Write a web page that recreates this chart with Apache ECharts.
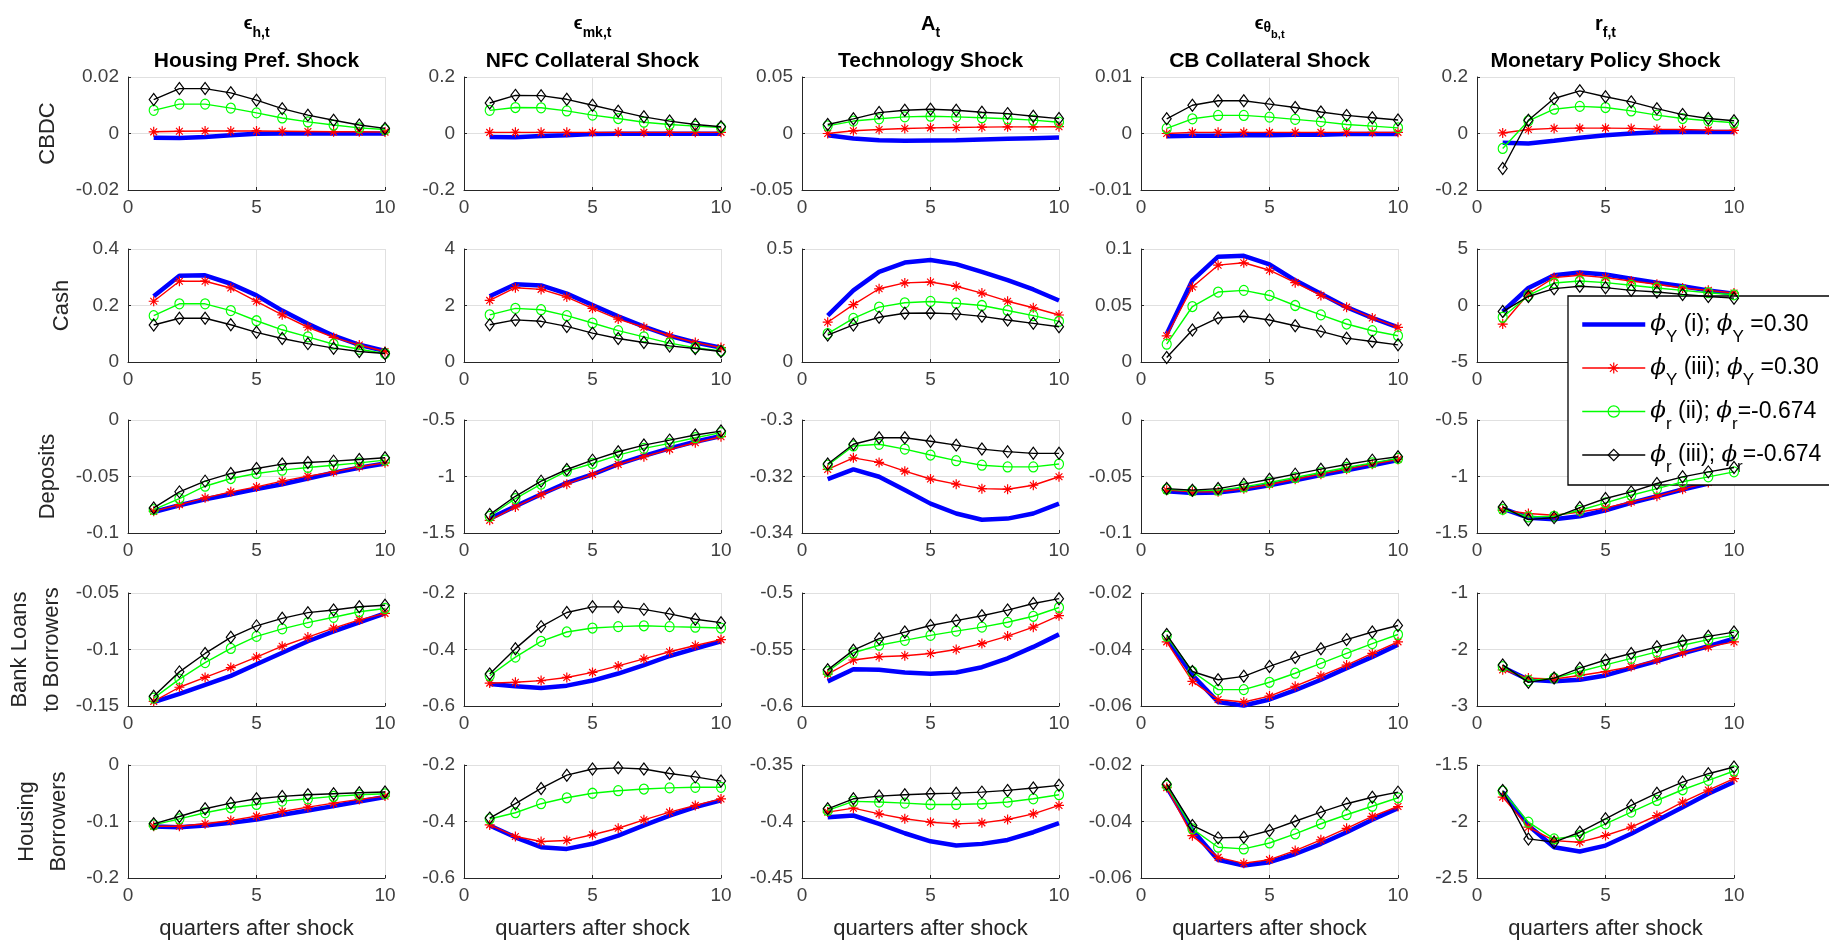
<!DOCTYPE html>
<html>
<head>
<meta charset="utf-8">
<title>Impulse responses</title>
<script src="https://cdn.jsdelivr.net/npm/echarts@6/dist/echarts.min.js"></script>
<style>
html, body { margin: 0; padding: 0; background: #fff; }
#irf { width: 1829px; height: 944px; }
</style>
</head>
<body>
<div id="irf"></div>
<script>
const quarters = [1, 2, 3, 4, 5, 6, 7, 8, 9, 10];

const shockSymbols = [
  "{e|ϵ}{s|h,t}",
  "{e|ϵ}{s|mk,t}",
  "{b|A}{s|t}",
  "{e|ϵ}{th|θ}{ss|b,t}",
  "{b|r}{s|f,t}"
];
const shockNames = ["Housing Pref. Shock", "NFC Collateral Shock", "Technology Shock", "CB Collateral Shock", "Monetary Policy Shock"];
const rowNames = ["CBDC", "Cash", "Deposits", "Bank Loans\nto Borrowers", "Housing\nBorrowers"];

const seriesNames = ["phiY_i", "phiY_iii", "phir_ii", "phir_iii"];
const legendLabels = [
  "{p|ϕ}{s|Y}{t| (i); }{p|ϕ}{s|Y}{t| =0.30}",
  "{p|ϕ}{s|Y}{t| (iii); }{p|ϕ}{s|Y}{t| =0.30}",
  "{p|ϕ}{s|r}{t| (ii); }{p|ϕ}{s|r}{t|=-0.674}",
  "{p|ϕ}{s|r}{t| (iii); }{p|ϕ}{s|r}{t|=-0.674}"
];

// y limits and tick steps, one row per variable, one entry per shock
const yMin = [
  [-0.02, -0.2, -0.05, -0.01, -0.2],
  [0, 0, 0, 0, -5],
  [-0.1, -1.5, -0.34, -0.1, -1.5],
  [-0.15, -0.6, -0.6, -0.06, -3],
  [-0.2, -0.6, -0.45, -0.06, -2.5]
];
const yMax = [
  [0.02, 0.2, 0.05, 0.01, 0.2],
  [0.4, 4, 0.5, 0.1, 5],
  [0, -0.5, -0.3, 0, -0.5],
  [-0.05, -0.2, -0.5, -0.02, -1],
  [0, -0.2, -0.35, -0.02, -1.5]
];
const yStep = [
  [0.02, 0.2, 0.05, 0.01, 0.2],
  [0.2, 2, 0.5, 0.05, 5],
  [0.05, 0.5, 0.02, 0.05, 0.5],
  [0.05, 0.2, 0.05, 0.02, 1],
  [0.1, 0.2, 0.05, 0.02, 0.5]
];

// CBDC
const cbdc_i = [
  [-0.0015, -0.0016, -0.0012, -0.0006, -0.0001, 0, 0, 0, 0, 0],
  [-0.012, -0.013, -0.009, -0.006, -0.002, -0.001, -0.001, -0.001, -0.001, -0.001],
  [-0.0015, -0.0044, -0.0059, -0.0065, -0.0062, -0.0059, -0.0053, -0.0047, -0.0041, -0.0035],
  [-0.0005, -0.0004, -0.0004, -0.0003, -0.0003, -0.0002, -0.0002, -0.0001, -0.0001, -0.0001],
  [-0.033, -0.035, -0.026, -0.015, -0.006, 0, 0.004, 0.005, 0.005, 0.005]
];
const cbdc_iii = [
  [0.0006, 0.0008, 0.0009, 0.0009, 0.0009, 0.0008, 0.0007, 0.0006, 0.0006, 0.0005],
  [0.004, 0.004, 0.004, 0.004, 0.004, 0.004, 0.004, 0.004, 0.004, 0.004],
  [0, 0.0024, 0.0035, 0.0044, 0.005, 0.0053, 0.0056, 0.0059, 0.0059, 0.006],
  [0, 0.0002, 0.0002, 0.0002, 0.0002, 0.0002, 0.0002, 0.0002, 0.0002, 0.0002],
  [0.002, 0.014, 0.018, 0.019, 0.019, 0.018, 0.015, 0.014, 0.012, 0.011]
];
const cbdc_ii = [
  [0.0082, 0.0104, 0.0104, 0.009, 0.0073, 0.0055, 0.0041, 0.003, 0.002, 0.0014],
  [0.082, 0.092, 0.091, 0.08, 0.065, 0.053, 0.04, 0.032, 0.026, 0.021],
  [0.0068, 0.011, 0.013, 0.0147, 0.0153, 0.0147, 0.014, 0.013, 0.0118, 0.01],
  [0.0009, 0.0026, 0.0032, 0.0032, 0.0029, 0.0025, 0.0021, 0.0016, 0.0013, 0.001],
  [-0.053, 0.045, 0.086, 0.096, 0.092, 0.08, 0.065, 0.053, 0.045, 0.038]
];
const cbdc_iiiR = [
  [0.012, 0.0159, 0.0159, 0.0144, 0.0118, 0.0088, 0.0065, 0.0047, 0.003, 0.0018],
  [0.108, 0.135, 0.134, 0.121, 0.1, 0.079, 0.059, 0.044, 0.032, 0.024],
  [0.008, 0.013, 0.0185, 0.0206, 0.0215, 0.0206, 0.0188, 0.0176, 0.0153, 0.0132],
  [0.0026, 0.005, 0.0058, 0.0058, 0.0052, 0.0046, 0.0038, 0.0032, 0.0028, 0.0024],
  [-0.124, 0.047, 0.124, 0.151, 0.13, 0.112, 0.088, 0.067, 0.053, 0.045]
];

// Cash
const cash_i = [
  [0.233, 0.305, 0.307, 0.277, 0.236, 0.182, 0.135, 0.093, 0.061, 0.039],
  [2.33, 2.75, 2.71, 2.42, 2.02, 1.62, 1.25, 0.93, 0.69, 0.51],
  [0.205, 0.317, 0.399, 0.44, 0.451, 0.433, 0.399, 0.362, 0.321, 0.272],
  [0.0247, 0.0723, 0.0932, 0.094, 0.0863, 0.0723, 0.0604, 0.0485, 0.039, 0.0307],
  [-0.54, 1.55, 2.68, 2.92, 2.74, 2.38, 2.02, 1.7, 1.34, 1.04]
];
const cash_iii = [
  [0.215, 0.286, 0.286, 0.262, 0.215, 0.167, 0.123, 0.087, 0.06, 0.037],
  [2.18, 2.63, 2.57, 2.3, 1.9, 1.52, 1.23, 0.93, 0.69, 0.51],
  [0.176, 0.254, 0.324, 0.35, 0.354, 0.335, 0.305, 0.269, 0.24, 0.208],
  [0.0232, 0.0664, 0.0857, 0.0878, 0.0812, 0.0702, 0.0589, 0.0485, 0.039, 0.0307],
  [-1.64, 1.04, 2.47, 2.68, 2.47, 2.17, 1.88, 1.55, 1.34, 1.1]
];
const cash_ii = [
  [0.164, 0.206, 0.206, 0.182, 0.146, 0.114, 0.089, 0.063, 0.045, 0.03],
  [1.67, 1.9, 1.85, 1.64, 1.38, 1.11, 0.89, 0.67, 0.51, 0.39],
  [0.126, 0.193, 0.243, 0.262, 0.268, 0.26, 0.25, 0.228, 0.205, 0.18],
  [0.0158, 0.0491, 0.0619, 0.0634, 0.0589, 0.05, 0.0417, 0.0336, 0.0277, 0.0232],
  [-1.04, 0.89, 1.99, 2.17, 2.02, 1.79, 1.55, 1.34, 1.13, 0.95]
];
const cash_iiiR = [
  [0.131, 0.155, 0.155, 0.132, 0.105, 0.083, 0.065, 0.049, 0.037, 0.03],
  [1.32, 1.49, 1.44, 1.26, 1.02, 0.83, 0.69, 0.57, 0.48, 0.37],
  [0.119, 0.164, 0.198, 0.216, 0.217, 0.213, 0.202, 0.186, 0.171, 0.156],
  [0.0039, 0.0283, 0.039, 0.0405, 0.0372, 0.0321, 0.0271, 0.0211, 0.0182, 0.0152],
  [-0.54, 0.8, 1.49, 1.7, 1.58, 1.34, 1.19, 0.98, 0.8, 0.65]
];

// Deposits
const dep_i = [
  [-0.0814, -0.0754, -0.0701, -0.0657, -0.0612, -0.0568, -0.0518, -0.0467, -0.0423, -0.0385],
  [-1.373, -1.263, -1.157, -1.056, -0.982, -0.891, -0.817, -0.751, -0.692, -0.642],
  [-0.3209, -0.3175, -0.3201, -0.3248, -0.3296, -0.3331, -0.3353, -0.3349, -0.3331, -0.3296],
  [-0.063, -0.0645, -0.0642, -0.0615, -0.0577, -0.0533, -0.0488, -0.0444, -0.04, -0.0355],
  [-1.284, -1.364, -1.379, -1.352, -1.299, -1.234, -1.175, -1.115, -1.062, -1.003]
];
const dep_iii = [
  [-0.0808, -0.0749, -0.0689, -0.0636, -0.0592, -0.0541, -0.0497, -0.0459, -0.0414, -0.0379],
  [-1.388, -1.269, -1.16, -1.068, -0.982, -0.893, -0.825, -0.76, -0.701, -0.648],
  [-0.3175, -0.3134, -0.315, -0.3181, -0.3209, -0.3227, -0.3243, -0.3245, -0.3231, -0.3201],
  [-0.0621, -0.0636, -0.0636, -0.0609, -0.0571, -0.0524, -0.0479, -0.0435, -0.0391, -0.0349],
  [-1.299, -1.328, -1.343, -1.314, -1.278, -1.225, -1.175, -1.112, -1.053, -0.997]
];
const dep_ii = [
  [-0.0793, -0.0695, -0.0586, -0.0518, -0.0473, -0.0444, -0.042, -0.04, -0.0379, -0.0355],
  [-1.352, -1.195, -1.068, -0.953, -0.885, -0.811, -0.751, -0.707, -0.657, -0.612],
  [-0.316, -0.3092, -0.3086, -0.3103, -0.3124, -0.3144, -0.316, -0.3166, -0.3166, -0.3156],
  [-0.0612, -0.0627, -0.0621, -0.0592, -0.0553, -0.0509, -0.0465, -0.042, -0.0379, -0.034],
  [-1.29, -1.358, -1.352, -1.299, -1.234, -1.166, -1.107, -1.047, -1.003, -0.959]
];
const dep_iiiR = [
  [-0.0778, -0.0636, -0.0541, -0.0473, -0.0429, -0.039, -0.0376, -0.0364, -0.0349, -0.0334],
  [-1.337, -1.175, -1.041, -0.938, -0.855, -0.781, -0.722, -0.678, -0.633, -0.598],
  [-0.3156, -0.3086, -0.3063, -0.3063, -0.3075, -0.3089, -0.3103, -0.3112, -0.3118, -0.3118],
  [-0.0607, -0.0621, -0.0607, -0.0568, -0.0524, -0.0479, -0.0435, -0.0394, -0.0355, -0.0325],
  [-1.269, -1.382, -1.364, -1.275, -1.195, -1.136, -1.062, -1.003, -0.959, -0.92]
];

// Bank loans to borrowers
const loan_i = [
  [-0.1465, -0.1392, -0.1314, -0.1233, -0.1131, -0.1029, -0.0927, -0.084, -0.0759, -0.068],
  [-0.522, -0.53, -0.536, -0.528, -0.51, -0.485, -0.455, -0.423, -0.397, -0.371],
  [-0.5782, -0.5674, -0.568, -0.5703, -0.5715, -0.5703, -0.5657, -0.5578, -0.5477, -0.5366],
  [-0.0362, -0.049, -0.0586, -0.0598, -0.0577, -0.0544, -0.0507, -0.0466, -0.0426, -0.0383],
  [-2.314, -2.535, -2.564, -2.535, -2.459, -2.331, -2.203, -2.07, -1.942, -1.808]
];
const loan_iii = [
  [-0.1459, -0.1334, -0.1247, -0.116, -0.1067, -0.0971, -0.089, -0.0811, -0.0738, -0.068],
  [-0.519, -0.516, -0.51, -0.499, -0.481, -0.458, -0.433, -0.408, -0.386, -0.365],
  [-0.5718, -0.5593, -0.5564, -0.5555, -0.5535, -0.55, -0.5448, -0.5381, -0.5302, -0.5201],
  [-0.0373, -0.0513, -0.0577, -0.0586, -0.0565, -0.053, -0.0493, -0.0455, -0.0414, -0.0373],
  [-2.36, -2.506, -2.523, -2.459, -2.39, -2.302, -2.186, -2.058, -1.953, -1.866]
];
const loan_ii = [
  [-0.143, -0.1262, -0.1116, -0.0991, -0.0884, -0.0817, -0.0762, -0.0715, -0.0666, -0.0637],
  [-0.493, -0.427, -0.371, -0.338, -0.324, -0.319, -0.316, -0.319, -0.321, -0.324],
  [-0.5695, -0.5529, -0.5462, -0.5419, -0.5375, -0.5337, -0.5302, -0.5259, -0.5206, -0.5128],
  [-0.0353, -0.0478, -0.0542, -0.0542, -0.0516, -0.0484, -0.0449, -0.0414, -0.0379, -0.0347],
  [-2.302, -2.552, -2.506, -2.39, -2.273, -2.157, -2.041, -1.924, -1.826, -1.75]
];
const loan_iiiR = [
  [-0.1413, -0.1198, -0.1035, -0.0892, -0.0791, -0.0724, -0.0674, -0.0651, -0.0622, -0.0608],
  [-0.487, -0.397, -0.319, -0.269, -0.249, -0.249, -0.258, -0.274, -0.293, -0.305],
  [-0.568, -0.5506, -0.5404, -0.5346, -0.5288, -0.5244, -0.5201, -0.5151, -0.5093, -0.505],
  [-0.0347, -0.0478, -0.0507, -0.0495, -0.046, -0.0428, -0.0397, -0.0365, -0.0338, -0.0315],
  [-2.273, -2.581, -2.506, -2.331, -2.186, -2.07, -1.953, -1.849, -1.767, -1.692]
];

// Housing borrowers
const house_i = [
  [-0.1089, -0.1101, -0.1071, -0.1024, -0.0964, -0.0882, -0.0805, -0.0728, -0.0645, -0.0568],
  [-0.414, -0.456, -0.491, -0.497, -0.479, -0.45, -0.414, -0.379, -0.349, -0.325],
  [-0.3962, -0.3947, -0.4021, -0.4104, -0.4175, -0.4213, -0.4198, -0.4163, -0.4095, -0.4015],
  [-0.0278, -0.043, -0.0536, -0.0556, -0.0544, -0.0515, -0.0479, -0.0438, -0.0394, -0.0353],
  [-1.74, -2.036, -2.228, -2.266, -2.213, -2.109, -1.991, -1.873, -1.754, -1.65]
];
const house_iii = [
  [-0.1083, -0.1083, -0.1041, -0.0982, -0.0905, -0.0822, -0.0746, -0.0675, -0.0609, -0.055],
  [-0.412, -0.453, -0.471, -0.467, -0.447, -0.424, -0.394, -0.367, -0.343, -0.32],
  [-0.3917, -0.3882, -0.3932, -0.3976, -0.4006, -0.4021, -0.4012, -0.3982, -0.3932, -0.3858],
  [-0.028, -0.045, -0.0527, -0.0548, -0.0535, -0.0503, -0.0465, -0.0424, -0.0382, -0.0347],
  [-1.784, -2.05, -2.169, -2.183, -2.124, -2.05, -1.947, -1.828, -1.722, -1.621]
];
const house_ii = [
  [-0.1059, -0.0953, -0.0846, -0.0757, -0.0698, -0.0639, -0.0598, -0.0556, -0.0527, -0.0509],
  [-0.391, -0.369, -0.337, -0.316, -0.3, -0.291, -0.285, -0.281, -0.279, -0.279],
  [-0.3902, -0.3822, -0.3828, -0.3837, -0.3849, -0.3849, -0.3843, -0.3828, -0.3799, -0.3763],
  [-0.0272, -0.0426, -0.0491, -0.0497, -0.0476, -0.0444, -0.0408, -0.0376, -0.0346, -0.0316],
  [-1.732, -2.006, -2.154, -2.124, -2.021, -1.917, -1.814, -1.719, -1.636, -1.553]
];
const house_iiiR = [
  [-0.1041, -0.0911, -0.0775, -0.0675, -0.0598, -0.0556, -0.0527, -0.0509, -0.0491, -0.0479],
  [-0.388, -0.337, -0.283, -0.236, -0.214, -0.21, -0.214, -0.23, -0.242, -0.257],
  [-0.3888, -0.3799, -0.3775, -0.3763, -0.3754, -0.3749, -0.374, -0.3725, -0.3704, -0.368],
  [-0.0268, -0.0414, -0.0458, -0.0456, -0.0432, -0.0399, -0.0367, -0.0337, -0.0314, -0.0296],
  [-1.726, -2.154, -2.183, -2.095, -1.976, -1.858, -1.749, -1.651, -1.577, -1.518]
];

const rowData = [
  [cbdc_i, cbdc_iii, cbdc_ii, cbdc_iiiR],
  [cash_i, cash_iii, cash_ii, cash_iiiR],
  [dep_i, dep_iii, dep_ii, dep_iiiR],
  [loan_i, loan_iii, loan_ii, loan_iiiR],
  [house_i, house_iii, house_ii, house_iiiR]
];

// layout
const colLeft = [128, 464, 802, 1141, 1477];
const rowTop = [77, 249, 420, 593, 765];
const plotW = 257, plotH = 113;
const yNameGap = [64, 50, 64, 60, 53];

const FONT = "'Liberation Sans', Arial, Helvetica, sans-serif";
const colors = ["#0000ff", "#ff0000", "#00ff00", "#000000"];
const widths = [4.5, 1.4, 1.4, 1.4];
const asterisk = "path://M5,0L5,10M0,5L10,5M1.6,1.6L8.4,8.4M1.6,8.4L8.4,1.6";
const markers = ["circle", asterisk, "circle", "diamond"];
const markerSize = [1, [10, 10], [9, 10], [9, 12]];

const chart = echarts.init(document.getElementById("irf"));

const grid = [], xAxis = [], yAxis = [], series = [], title = [];

shockNames.forEach((nm, c) => {
  const cx = colLeft[c] + plotW / 2;
  title.push({
    text: shockSymbols[c], left: cx, top: 8, textAlign: "center", padding: 0,
    textStyle: {
      rich: {
        e: { fontFamily: FONT, fontSize: 19, fontWeight: "bold", color: "#000", lineHeight: 32 },
        b: { fontFamily: FONT, fontSize: 20, fontWeight: "bold", color: "#000", lineHeight: 32 },
        s: { fontFamily: FONT, fontSize: 14, fontWeight: "bold", color: "#000", verticalAlign: "bottom" },
        th: { fontFamily: FONT, fontSize: 14, fontWeight: "bold", color: "#000", verticalAlign: "bottom", padding: [0, 0, 5, 0] },
        ss: { fontFamily: FONT, fontSize: 11, fontWeight: "bold", color: "#000", verticalAlign: "bottom" }
      }
    }
  });
  title.push({
    text: nm, left: cx, top: 48, textAlign: "center", padding: 0,
    textStyle: { fontFamily: FONT, fontSize: 21, fontWeight: "bold", color: "#000", lineHeight: 26 }
  });
});

rowData.forEach((sets, r) => {
  for (let c = 0; c < 5; c++) {
    const k = grid.length;
    grid.push({ left: colLeft[c], top: rowTop[r], width: plotW, height: plotH });
    xAxis.push({
      type: "value", gridIndex: k, min: 0, max: 10, interval: 5,
      name: r === 4 ? "quarters after shock" : "",
      nameLocation: "middle", nameGap: 40,
      nameTextStyle: { fontFamily: FONT, fontSize: 22, color: "#262626" },
      axisLine: { onZero: false, lineStyle: { color: "#262626", width: 1 } },
      axisTick: { inside: true, length: 3, lineStyle: { color: "#262626" } },
      axisLabel: { margin: 8, fontFamily: FONT, fontSize: 19, color: "#404040" },
      splitLine: { show: true, lineStyle: { color: "#e0e0e0", width: 1 } }
    });
    yAxis.push({
      type: "value", gridIndex: k, min: yMin[r][c], max: yMax[r][c], interval: yStep[r][c],
      name: c === 0 ? rowNames[r] : "",
      nameLocation: "middle", nameRotate: 90, nameGap: yNameGap[r],
      nameTextStyle: { fontFamily: FONT, fontSize: 22, color: "#262626", lineHeight: 32 },
      axisLine: { show: true, onZero: false, lineStyle: { color: "#262626", width: 1 } },
      axisTick: { show: true, inside: true, length: 3, lineStyle: { color: "#262626" } },
      axisLabel: { margin: 9, fontFamily: FONT, fontSize: 19, color: "#404040" },
      splitLine: { show: true, lineStyle: { color: "#e0e0e0", width: 1 } }
    });
    sets.forEach((vals, s) => {
      series.push({
        type: "line", name: seriesNames[s], xAxisIndex: k, yAxisIndex: k,
        data: quarters.map((q, i) => [q, vals[c][i]]),
        symbol: markers[s], symbolSize: markerSize[s], showSymbol: s > 0,
        lineStyle: { color: colors[s], width: widths[s] },
        itemStyle: { color: "rgba(0,0,0,0)", borderColor: s === 0 ? "rgba(0,0,0,0)" : colors[s], borderWidth: 1.2 },
        emphasis: { disabled: true },
        silent: true, animation: false, z: 2 + s
      });
    });
  }
});

const option = {
  backgroundColor: "#ffffff",
  animation: false,
  title: title,
  grid: grid,
  xAxis: xAxis,
  yAxis: yAxis,
  legend: {
    orient: "vertical", left: 1568, top: 296,
    padding: [17, 14, 9, 12], itemGap: 11,
    itemWidth: 63, itemHeight: 14,
    backgroundColor: "#ffffff", borderColor: "#000", borderWidth: 1.3,
    selectedMode: false,
    itemStyle: { borderWidth: 1.2 },
    data: seriesNames.map((n, s) => ({ name: n, lineStyle: { width: widths[s] } })),
    formatter: (name) => legendLabels[seriesNames.indexOf(name)],
    textStyle: {
      rich: {
        p: { fontFamily: "'DejaVu Serif', serif", fontStyle: "italic", fontSize: 23, color: "#000", lineHeight: 30 },
        s: { fontFamily: FONT, fontSize: 17, color: "#000", verticalAlign: "bottom", padding: [0, 0, -6, 0] },
        t: { fontFamily: FONT, fontSize: 23, color: "#000", lineHeight: 30 }
      }
    }
  },
  series: series
};

chart.setOption(option);
</script>
</body>
</html>
